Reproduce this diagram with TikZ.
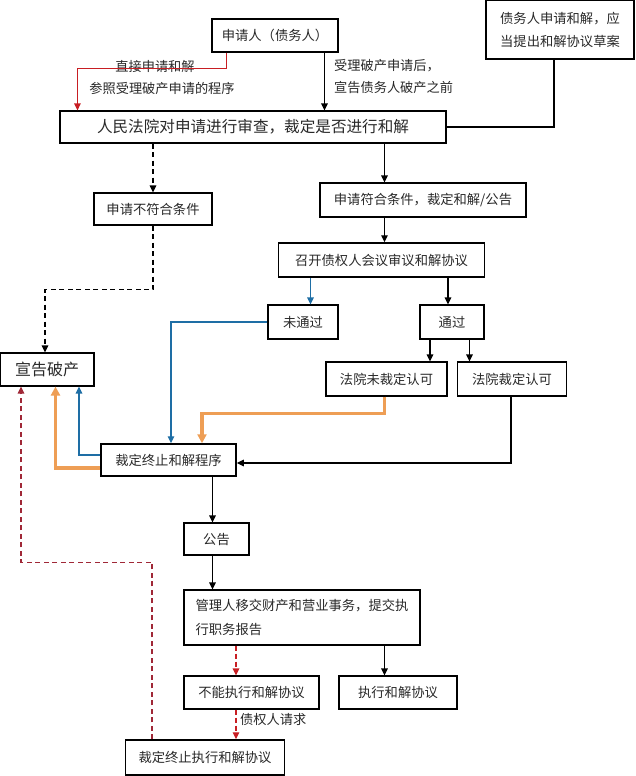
\documentclass[tikz,border=0pt]{standalone}
\usepackage{fontspec}
\setmainfont{Noto Sans CJK SC}
\usetikzlibrary{arrows.meta,calc}
\definecolor{txt}{RGB}{40,40,40}
\definecolor{myred}{RGB}{200,30,35}
\definecolor{darkred}{RGB}{160,40,55}
\definecolor{myblue}{RGB}{30,110,165}
\definecolor{myorange}{RGB}{238,158,85}
\begin{document}
\begin{tikzpicture}[x=1pt,y=-1pt,
  box/.style={draw=black,line width=1.1pt,inner sep=0pt,align=center,text=txt,font=\fontsize{13.3}{15}\selectfont},
  lbl/.style={inner sep=0pt,text=txt,font=\fontsize{13.2}{15}\selectfont},
  tip/.style={-{Triangle[length=7pt,width=6.5pt]}},
  arr/.style={tip,line width=1.4pt,draw=black},
  plain/.style={line width=1.2pt,draw=black},
  darr/.style={tip,line width=1.4pt,draw=black,dash pattern=on 5pt off 3.5pt},
  redarr/.style={tip,line width=1.2pt,draw=myred},
  reddash/.style={tip,line width=1.3pt,draw=myred,dash pattern=on 5pt off 3pt},
  longred/.style={tip,line width=1.2pt,draw=darkred,dash pattern=on 5pt off 3.5pt},
  bluearr/.style={tip,line width=1.3pt,draw=myblue},
  orangearr/.style={-{Triangle[length=9pt,width=9pt]},line width=3.2pt,draw=myorange},
]
\useasboundingbox (0,0) rectangle (635,776);

% boxes
\node[box,minimum width=126pt,minimum height=33pt] (app) at (275,35.5) {申请人（债务人）};
\node[box,minimum width=148pt,minimum height=59pt,font=\fontsize{13.3}{23}\selectfont] (debt) at (560,29.5) {债务人申请和解，应\\当提出和解协议草案};
\node[box,minimum width=386pt,minimum height=32pt,font=\fontsize{15.6}{17}\selectfont] (court) at (253,127) {人民法院对申请进行审查，裁定是否进行和解};
\node[box,minimum width=118pt,minimum height=32pt] (notok) at (153,209) {申请不符合条件};
\node[box,minimum width=206pt,minimum height=34pt] (ok) at (423,200) {申请符合条件，裁定和解/公告};
\node[box,minimum width=206pt,minimum height=34pt,line width=1.5pt] (meet) at (381.5,260) {召开债权人会议审议和解协议};
\node[box,minimum width=70pt,minimum height=34pt] (fail) at (303,322) {未通过};
\node[box,minimum width=64pt,minimum height=34pt] (pass) at (452,322) {通过};
\node[box,minimum width=94pt,minimum height=33pt,font=\fontsize{16}{18}\selectfont] (bankrupt) at (47,369.5) {宣告破产};
\node[box,minimum width=121pt,minimum height=34pt] (nocourt) at (386.5,379) {法院未裁定认可};
\node[box,minimum width=109pt,minimum height=34pt] (yescourt) at (512,379) {法院裁定认可};
\node[box,minimum width=135pt,minimum height=32pt,line width=1.5pt] (term) at (168.5,460) {裁定终止和解程序};
\node[box,minimum width=65pt,minimum height=32pt] (notice) at (216.5,539) {公告};
\node[box,minimum width=236pt,minimum height=55pt,align=left,font=\fontsize{13.3}{24}\selectfont] (admin) at (302,617.5) {管理人移交财产和营业事务，提交执\\行职务报告};
\node[box,minimum width=135pt,minimum height=33pt] (cannot) at (251.5,692.5) {不能执行和解协议};
\node[box,minimum width=118pt,minimum height=33pt] (exec) at (398,692.5) {执行和解协议};
\node[box,minimum width=159pt,minimum height=35pt,line width=1.4pt] (termexec) at (205,757.5) {裁定终止执行和解协议};

% labels
\node[lbl] (l1) at (155,66) {直接申请和解};
\node[lbl] (l2) at (162,88) {参照受理破产申请的程序};
\node[lbl,anchor=west] (l3) at (334,66) {受理破产申请后，};
\node[lbl,anchor=west] (l4) at (334,88) {宣告债务人破产之前};
\node[lbl,anchor=west] (l5) at (240,720) {债权人请求};

% helper coordinates
\coordinate (c1) at ([xshift=-38.5pt]ok.north);
\coordinate (c2) at ([xshift=7.5pt]fail.north);
\coordinate (c3) at ([xshift=-4pt]pass.north);
\coordinate (c4) at ([xshift=43.5pt]nocourt.north);
\coordinate (c5) at ([xshift=-42.5pt]yescourt.north);
\coordinate (c6) at ([xshift=-4pt]notice.north);
\coordinate (c7) at ([xshift=-15.5pt]cannot.north);
\coordinate (c8) at ([xshift=-13.5pt]exec.north);
\coordinate (a1) at ([xshift=15pt]app.south west);
\coordinate (a2) at ([xshift=113pt]app.south west);
\coordinate (d1) at ([xshift=-6pt]debt.south);

% connectors
\draw[redarr] (a1) -- ++(0,16) -| ([xshift=18pt]court.north west);
\draw[arr] (a2) -- (a2 |- court.north);
\draw[plain] (d1) |- (court.east);
\draw[darr] (notok.north |- court.south) -- (notok.north);
\draw[arr] (c1 |- court.south) -- (c1);
\draw[arr] (c1 |- ok.south) -- (c1 |- meet.north);
\draw[bluearr] (c2 |- meet.south) -- (c2);
\draw[arr] (c3 |- meet.south) -- (c3);
\draw[arr] (c4 |- pass.south) -- (c4);
\draw[arr] (c5 |- pass.south) -- (c5);
\draw[darr] (notok.south) -- ++(0,64) -| ([xshift=-2pt]bankrupt.north);
\draw[bluearr] (fail.west) -| ([xshift=2.5pt]term.north);
\draw[orangearr] ([xshift=-2pt]nocourt.south) -- ++(0,17) -| ([xshift=33.5pt]term.north);
\draw[bluearr] ([yshift=5pt]term.west) -| ([xshift=32pt]bankrupt.south);
\draw[orangearr] ([yshift=-8pt]term.west) -| ([xshift=8.5pt]bankrupt.south);
\draw[arr,line width=1.2pt] ([xshift=-1pt]yescourt.south) |- ([yshift=-3pt]term.east);
\draw[arr] (c6 |- term.south) -- (c6);
\draw[arr] (c6 |- notice.south) -- (c6 |- admin.north);
\draw[reddash] (c7 |- admin.south) -- (c7);
\draw[arr] (c8 |- admin.south) -- (c8);
\draw[reddash] (c7 |- cannot.south) -- (c7 |- termexec.north);
\draw[longred] ([xshift=-53pt]termexec.north) -- ++(0,-177) -| ([xshift=-26pt]bankrupt.south);
\end{tikzpicture}
\end{document}
